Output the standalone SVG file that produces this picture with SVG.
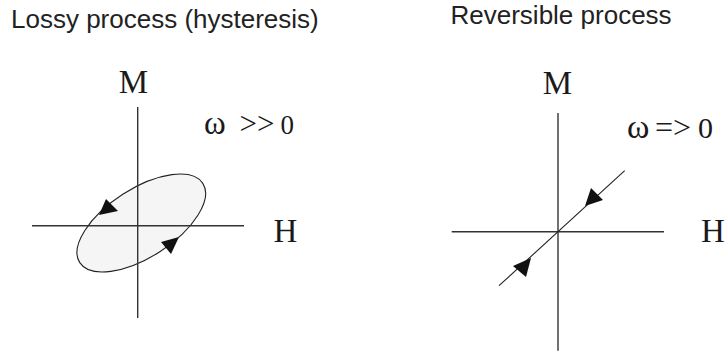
<svg xmlns="http://www.w3.org/2000/svg" width="728" height="356" viewBox="0 0 728 356">
<style>
.title{font-family:"Liberation Sans",Arial,sans-serif;font-size:26px;fill:#222}
.lbl{font-family:"Liberation Serif","Times New Roman",serif;fill:#1a1a1a}
.axis{stroke:#333;stroke-width:1.4;fill:none}
.curve{stroke:#222;stroke-width:1.1}
.head{fill:#111;stroke:none}
</style>
<rect width="728" height="356" fill="#fff"/>
<g id="title-lossy"><text class="title" x="11" y="27.5">Lossy process (hysteresis)</text></g>
<g id="title-reversible"><text class="title" x="450.5" y="23.5">Reversible process</text></g>

<g id="lossy-loop">
<ellipse class="curve" cx="141.3" cy="223" rx="73.2" ry="34.2" transform="rotate(-32.8 141.3 223)" fill="#f5f5f5"/>
</g>
<g id="lossy-axes" class="connectors">
<line class="axis" x1="137.7" y1="107" x2="137.7" y2="318"/>
<line class="axis" x1="32" y1="225.7" x2="244" y2="225.7"/>
</g>
<g id="lossy-arrows">
<polygon class="head" points="99,215 106,199 118,211"/>
<polygon class="head" points="179,237 161,242 171,254"/>
</g>
<g id="lossy-labels">
<text class="lbl" x="133.5" y="93" font-size="33" text-anchor="middle">M</text>
<text class="lbl" x="273.5" y="242" font-size="33">H</text>
<text class="lbl" y="134"><tspan x="204" font-size="33">ω</tspan><tspan x="239.5" font-size="31">&gt;&gt;</tspan><tspan x="280.5" font-size="27">0</tspan></text>
</g>

<g id="rev-axes" class="connectors">
<line class="axis" x1="558" y1="113" x2="558" y2="350.7"/>
<line class="axis" x1="451.7" y1="231.7" x2="664" y2="231.7"/>
</g>
<g id="rev-line">
<line class="curve" x1="499" y1="285.7" x2="624.7" y2="170.7"/>
<polygon class="head" points="585,206 591,188 603,200"/>
<polygon class="head" points="531,258 513,266 526,277"/>
</g>
<g id="rev-labels">
<text class="lbl" x="557.5" y="94" font-size="33" text-anchor="middle">M</text>
<text class="lbl" x="701" y="242" font-size="33">H</text>
<text class="lbl" y="138"><tspan x="627" font-size="34">ω</tspan><tspan x="655" font-size="32">=&gt;</tspan><tspan x="698" font-size="30">0</tspan></text>
</g>
</svg>
